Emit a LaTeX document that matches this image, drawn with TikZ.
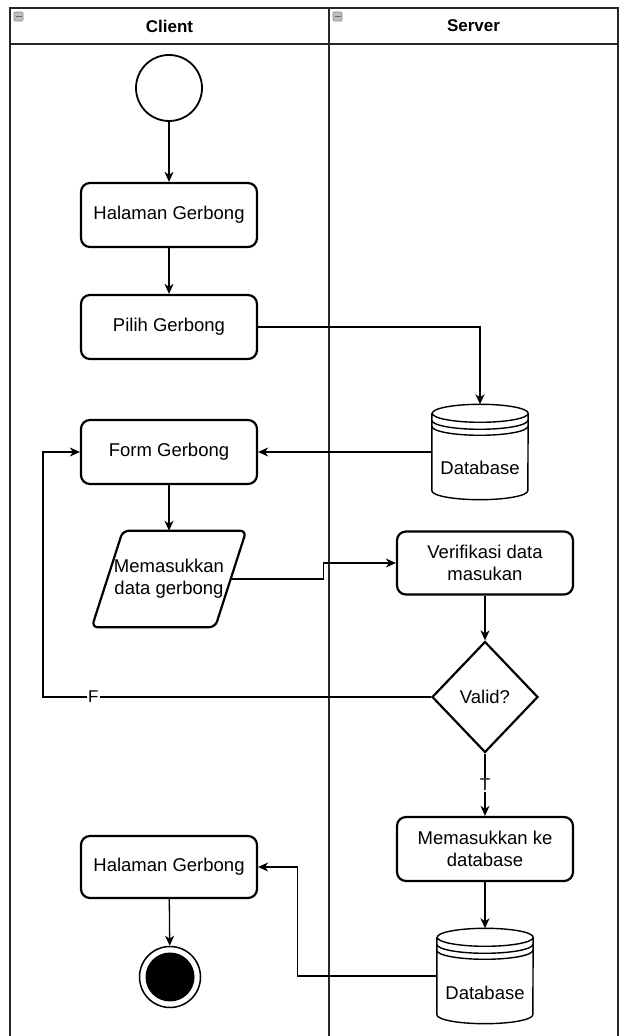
\documentclass[tikz,border=0pt]{standalone}
\usepackage{fontspec}
\setmainfont{Liberation Sans}
\usepackage{tikz}
\usetikzlibrary{shapes.geometric, arrows.meta, positioning}
\tikzstyle{lane} = [line width=1.3pt, draw=black!85]
\tikzstyle{laneHead} = [font=\fontsize{17}{20}\selectfont\bfseries]
\tikzstyle{action} = [rectangle, rounded corners=9pt, minimum width=176pt, minimum height=64pt, inner sep=2pt, align=center, draw=black, line width=2.2pt, font=\fontsize{18.5}{22}\selectfont]
\tikzstyle{decision} = [diamond, aspect=0.95, minimum width=106pt, minimum height=111pt, inner sep=0pt, draw=black, line width=2.2pt, font=\fontsize{18.5}{22}\selectfont]
\tikzstyle{io} = [rectangle, minimum width=123pt, minimum height=96pt, inner sep=0pt, align=center, font=\fontsize{18.5}{22}\selectfont]
\tikzstyle{ioLine} = [draw=black, line width=2.2pt, rounded corners=6pt]
\tikzstyle{startNode} = [circle, minimum size=66pt, inner sep=0pt, draw=black, line width=1.8pt]
\tikzstyle{endNode} = [circle, minimum size=61pt, inner sep=0pt, draw=black, line width=1.5pt]
\tikzstyle{dbNode} = [rectangle, minimum width=96pt, minimum height=95pt, inner sep=0pt]
\tikzstyle{dbLine} = [draw=black, line width=1.4pt]
\tikzstyle{arrow} = [line width=1.3pt, -{Stealth[length=10pt, width=9pt, inset=3pt]}]
\tikzstyle{guard} = [fill=white, inner sep=1pt, font=\fontsize{17}{20}\selectfont]
% data store outline around a dbNode
\newcommand{\dbdraw}[1]{%
  \draw[dbLine] ([yshift=-9pt]#1.north west) -- ([yshift=9pt]#1.south west)
    arc[start angle=180, end angle=360, x radius=48pt, y radius=9pt]
    -- ([yshift=-9pt]#1.north east)
    arc[start angle=0, end angle=360, x radius=48pt, y radius=9pt];
  \foreach \off in {16pt,22pt}
    \draw[dbLine] ([yshift=-\off]#1.north west) arc[start angle=180, end angle=360, x radius=48pt, y radius=9pt];
}

\begin{document}
\begin{tikzpicture}[x=1pt, y=1pt]
\useasboundingbox (0,0) rectangle (619,1036);
% swimlanes
\draw[lane] (10,-5) -- (10,1028) -- (618,1028) -- (618,-5);
\draw[lane] (10,992) -- (618,992);
\draw[lane] (329,-5) -- (329,1028);
\foreach \ix in {14,333} {
  \filldraw[fill=black!25, draw=black!45, line width=0.6pt, rounded corners=1pt] (\ix,1015) rectangle (\ix+9,1024);
  \draw[black!60, line width=1pt] (\ix+1.5,1019.5) -- (\ix+7.5,1019.5);
}
\node (clientHead) [laneHead] at (169.5,1010) {Client};
\node (serverHead) [laneHead] at (473.5,1010) {Server};

% client lane
\node (start) [startNode] at (169,948) {};
\node (hal1) [action] at (169,821) {Halaman Gerbong};
\node (pilih) [action] at (169,709) {Pilih Gerbong};
\node (form) [action] at (169,584) {Form Gerbong};
\node (input) [io] at (169,457) {Memasukkan\\data gerbong};
\draw[ioLine] ([xshift=15.5pt]input.north west) -- ([xshift=15.5pt]input.north east)
  -- ([xshift=-15.5pt]input.south east) -- ([xshift=-15.5pt]input.south west) -- cycle;
\node (hal2) [action, minimum height=62pt] at (169,169) {Halaman Gerbong};
\node (end) [endNode] at (170,59) {};
\fill (end.center) circle (24.5pt);

% server lane
\node (db1) [dbNode, label={[yshift=-16pt, font=\fontsize{18.5}{22}\selectfont]center:Database}] at (480,584) {};
\dbdraw{db1}
\node (verif) [action, minimum height=63pt] at (485,473) {Verifikasi data\\masukan};
\node (valid) [decision] at (485,339) {Valid?};
\node (ins) [action] at (485,187) {Memasukkan ke\\database};
\node (db2) [dbNode, label={[yshift=-17pt, font=\fontsize{18.5}{22}\selectfont]center:Database}] at (485,60) {};
\dbdraw{db2}
\coordinate (fturn) at (43,339);

% flows
\draw [arrow] (start) -- (hal1);
\draw [arrow] (hal1) -- (pilih);
\draw [arrow] (pilih.east) -| (db1.north);
\draw [arrow] (db1.west) -- (form.east);
\draw [arrow] (form) -- (input.north);
\draw [arrow] (input.east) -- ++(92.5,0) |- (verif.west);
\draw [arrow] (verif) -- (valid);
\draw [arrow] (valid.west) -- node [guard, pos=0.87] {F} (fturn) |- (form.west);
\draw [arrow] (valid.south) -- node [guard] {T} (ins.north);
\draw [arrow] (ins) -- (db2.north);
\draw [arrow] (db2.west) -- ++(-139.5,0) |- (hal2.east);
\draw [arrow] (hal2) -- (end);
\end{tikzpicture}
\end{document}
